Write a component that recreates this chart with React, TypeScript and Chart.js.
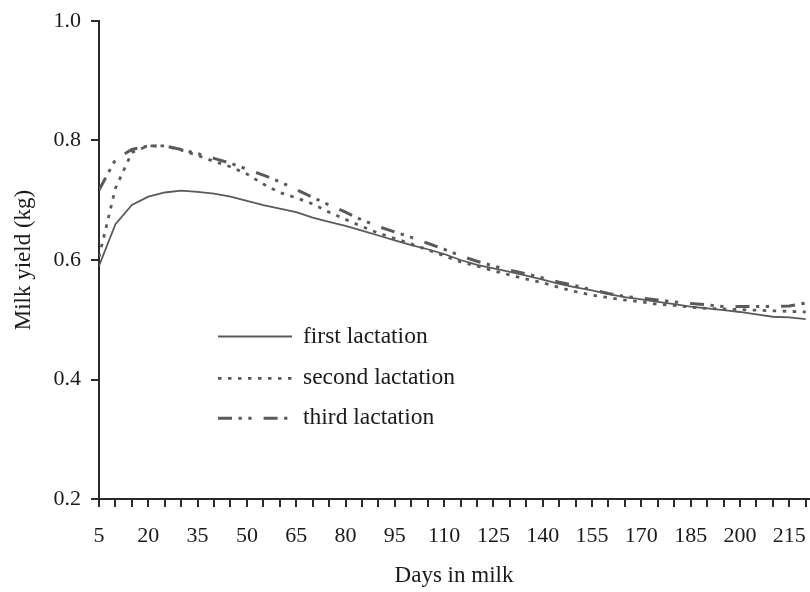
import React, { useEffect, useRef } from "react";
import { Chart, registerables } from "chart.js";

Chart.register(...registerables);

// ---- data ----
const days = [
  5, 10, 15, 20, 25, 30, 35, 40, 45, 50, 55, 60, 65, 70, 75, 80, 85, 90, 95, 100,
  105, 110, 115, 120, 125, 130, 135, 140, 145, 150, 155, 160, 165, 170, 175, 180,
  185, 190, 195, 200, 205, 210, 215, 220,
];

const firstLactation = [
  0.59, 0.66, 0.692, 0.706, 0.713, 0.716, 0.714, 0.711, 0.706, 0.699, 0.692, 0.686,
  0.68, 0.671, 0.664, 0.657, 0.649, 0.641, 0.633, 0.625, 0.618, 0.61, 0.6, 0.592,
  0.586, 0.58, 0.574, 0.567, 0.56, 0.554, 0.549, 0.543, 0.538, 0.534, 0.53, 0.526,
  0.522, 0.519, 0.516, 0.513, 0.509, 0.505, 0.504, 0.501,
];

const secondLactation = [
  0.605, 0.72, 0.78, 0.791, 0.791, 0.784, 0.775, 0.765, 0.756, 0.744, 0.727, 0.713,
  0.704, 0.694, 0.68, 0.668, 0.656, 0.645, 0.636, 0.627, 0.617, 0.607, 0.597, 0.59,
  0.582, 0.575, 0.568, 0.562, 0.554, 0.547, 0.541, 0.537, 0.533, 0.53, 0.526, 0.524,
  0.521, 0.519, 0.518, 0.517, 0.516, 0.515, 0.514, 0.513,
];

const thirdLactation = [
  0.717, 0.768, 0.785, 0.791, 0.791, 0.785, 0.778, 0.77, 0.762, 0.752, 0.742, 0.731,
  0.718, 0.705, 0.692, 0.68, 0.667, 0.656, 0.647, 0.638, 0.628, 0.618, 0.607, 0.598,
  0.59, 0.583, 0.577, 0.57, 0.563, 0.557, 0.55, 0.544, 0.539, 0.536, 0.533, 0.53,
  0.527, 0.525, 0.522, 0.522, 0.522, 0.522, 0.523, 0.528,
];

const seriesLabels = ["first lactation", "second lactation", "third lactation"];
const xLabelDays = [5, 20, 35, 50, 65, 80, 95, 110, 125, 140, 155, 170, 185, 200, 215];
const yTickValues = [0.2, 0.4, 0.6, 0.8, 1.0];

const FONT = '"Liberation Serif", "Times New Roman", serif';
const LINE = "#5a5a5a";
const AXIS = "#2a2a2a";
const TEXT = "#1a1a1a";

const legendRows = [336.5, 378.3, 418.3];

const insideLegend = {
  id: "insideLegend",
  afterDraw(chart: any) {
    const ctx = chart.ctx;
    chart.data.datasets.forEach((ds: any, i: number) => {
      const y = legendRows[i];
      ctx.save();
      ctx.strokeStyle = ds.borderColor;
      ctx.lineWidth = ds.borderWidth;
      ctx.setLineDash(ds.borderDash || []);
      ctx.beginPath();
      ctx.moveTo(218, y);
      ctx.lineTo(292, y);
      ctx.stroke();
      ctx.setLineDash([]);
      ctx.fillStyle = TEXT;
      ctx.font = `23.5px ${FONT}`;
      ctx.textBaseline = "middle";
      ctx.textAlign = "left";
      ctx.fillText(ds.label, 303, y);
      ctx.restore();
    });
  },
};

function toPoints(values: number[]) {
  return days.map((d, i) => ({ x: d, y: values[i] }));
}

export default function App() {
  const ref = useRef<HTMLCanvasElement | null>(null);

  useEffect(() => {
    if (!ref.current) return;
    const chart = new Chart(ref.current, {
      type: "line",
      data: {
        datasets: [
          {
            label: seriesLabels[0],
            data: toPoints(firstLactation),
            borderColor: LINE,
            borderWidth: 1.8,
            borderDash: [],
            pointRadius: 0,
            tension: 0,
            fill: false,
          },
          {
            label: seriesLabels[1],
            data: toPoints(secondLactation),
            borderColor: LINE,
            borderWidth: 2.8,
            borderDash: [3.5, 6.5],
            pointRadius: 0,
            tension: 0,
            fill: false,
          },
          {
            label: seriesLabels[2],
            data: toPoints(thirdLactation),
            borderColor: LINE,
            borderWidth: 3,
            borderDash: [14, 6.5, 3.3, 6.5, 3.3, 12],
            pointRadius: 0,
            tension: 0,
            fill: false,
          },
        ],
      },
      options: {
        animation: false,
        responsive: false,
        layout: { padding: { top: 21, right: 1, left: 0, bottom: 0 } },
        plugins: {
          legend: { display: false },
          tooltip: { enabled: false },
        },
        scales: {
          x: {
            type: "linear",
            min: 5,
            max: 221,
            afterFit(scale: any) {
              scale.height = 93;
              scale.paddingLeft = 0;
              scale.paddingRight = 0;
            },
            border: { display: true, color: AXIS, width: 2 },
            grid: {
              display: true,
              drawOnChartArea: false,
              drawTicks: true,
              tickLength: 8,
              color: AXIS,
              lineWidth: 2,
            },
            ticks: {
              stepSize: 5,
              includeBounds: false,
              autoSkip: false,
              maxRotation: 0,
              minRotation: 0,
              padding: 16,
              color: TEXT,
              font: { family: FONT, size: 22 },
              callback: (v: any) => (xLabelDays.includes(Number(v)) ? String(v) : ""),
            },
            title: {
              display: true,
              text: "Days in milk",
              color: TEXT,
              font: { family: FONT, size: 23 },
              padding: { top: 0, bottom: 2 },
            },
          },
          y: {
            type: "linear",
            min: 0.2,
            max: 1.0,
            afterFit(scale: any) {
              scale.width = 99;
              scale.paddingTop = 0;
              scale.paddingBottom = 0;
            },
            afterBuildTicks(scale: any) {
              scale.ticks = yTickValues.map((v) => ({ value: v }));
            },
            border: { display: true, color: AXIS, width: 2 },
            grid: {
              display: true,
              drawOnChartArea: false,
              drawTicks: true,
              tickLength: 8,
              color: AXIS,
              lineWidth: 2,
            },
            ticks: {
              padding: 10,
              color: TEXT,
              font: { family: FONT, size: 22 },
              callback: (v: any) => Number(v).toFixed(1),
            },
            title: {
              display: true,
              text: "Milk yield (kg)",
              color: TEXT,
              font: { family: FONT, size: 23 },
              padding: { top: 10, bottom: 0 },
            },
          },
        },
      },
      plugins: [insideLegend],
    });
    return () => chart.destroy();
  }, []);

  return (
    <div style={{ position: "fixed", left: 0, top: 0, width: 810, height: 592, background: "#fff" }}>
      <canvas ref={ref} width={810} height={592} style={{ display: "block", width: 810, height: 592 }} />
    </div>
  );
}
